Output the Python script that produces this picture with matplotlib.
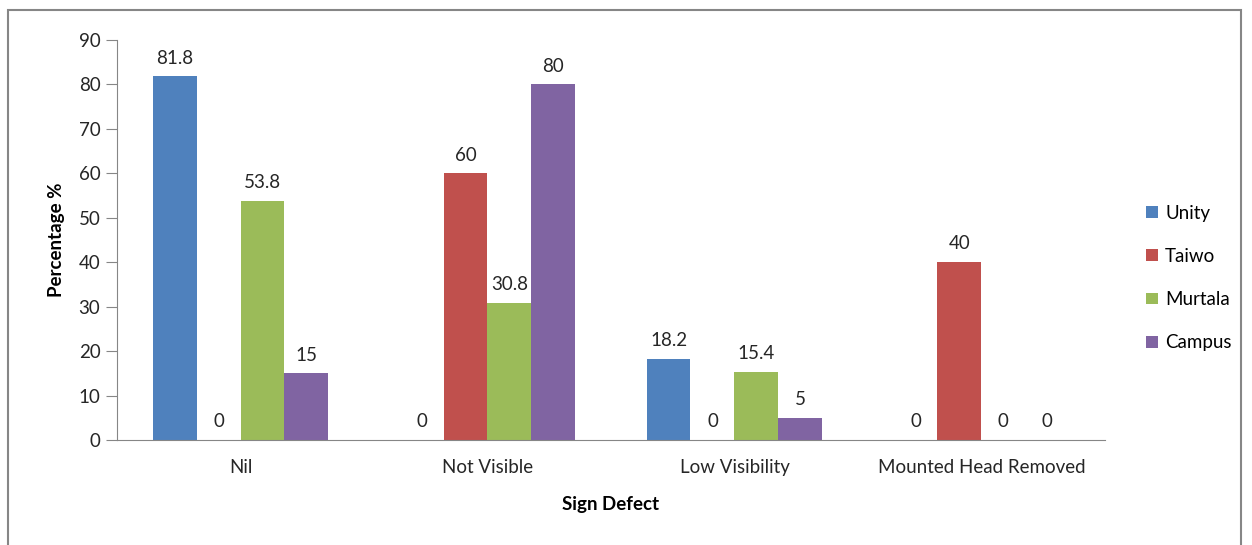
import matplotlib.pyplot as plt
import numpy as np
from matplotlib.patches import Rectangle

categories = ["Nil", "Not Visible", "Low Visibility", "Mounted Head Removed"]
unity = [81.8, 0, 18.2, 0]
taiwo = [0, 60, 0, 40]
murtala = [53.8, 30.8, 15.4, 0]
campus = [15, 80, 5, 0]
series_names = ["Unity", "Taiwo", "Murtala", "Campus"]
colors = ["#4F81BD", "#C0504D", "#9BBB59", "#8064A2"]

plt.rcParams['font.family'] = ['Lato', 'DejaVu Sans']
fs = 13.5

fig = plt.figure(figsize=(12.52, 5.45), dpi=100)
ax = fig.add_axes([0.0935, 0.1927, 0.789, 0.734])

# outer chart border
fig.patches.append(Rectangle((8 / 1252, -0.05), 1233 / 1252, 1.05 - 10 / 545,
                             transform=fig.transFigure, fill=False,
                             edgecolor="#868686", linewidth=1.5))

x = np.arange(len(categories))
w = 0.178
data = [unity, taiwo, murtala, campus]
for i, (vals, name, c) in enumerate(zip(data, series_names, colors)):
    pos = x + (i - 1.5) * w
    bars = ax.bar(pos, vals, w, color=c, label=name)
    for xp, v in zip(pos, vals):
        ax.annotate(f"{v:g}", (xp, v), xytext=(0, 7), textcoords="offset points",
                    ha="center", va="bottom", fontsize=fs, color="#262626")

ax.set_xlim(-0.5, 3.5)
ax.set_ylim(0, 90)
ax.set_yticks(range(0, 91, 10))
ax.set_xticks(x)
ax.set_xticklabels(categories)
ax.tick_params(axis="x", length=0, labelsize=fs, pad=14, colors="#262626")
ax.tick_params(axis="y", length=8, labelsize=fs, pad=4, colors="#262626", color="#868686")
for s in ["top", "right"]:
    ax.spines[s].set_visible(False)
for s in ["left", "bottom"]:
    ax.spines[s].set_color("#868686")

ax.set_ylabel("Percentage %", fontsize=fs, fontweight="bold", labelpad=10)
ax.set_xlabel("Sign Defect", fontsize=fs, fontweight="bold", labelpad=14)

ax.legend(loc="center left", bbox_to_anchor=(1.025, 0.405), frameon=False,
          fontsize=fs, handlelength=0.6, handleheight=0.6, labelspacing=1.4,
          handletextpad=0.4)

fig.savefig("out.png", dpi=100)
